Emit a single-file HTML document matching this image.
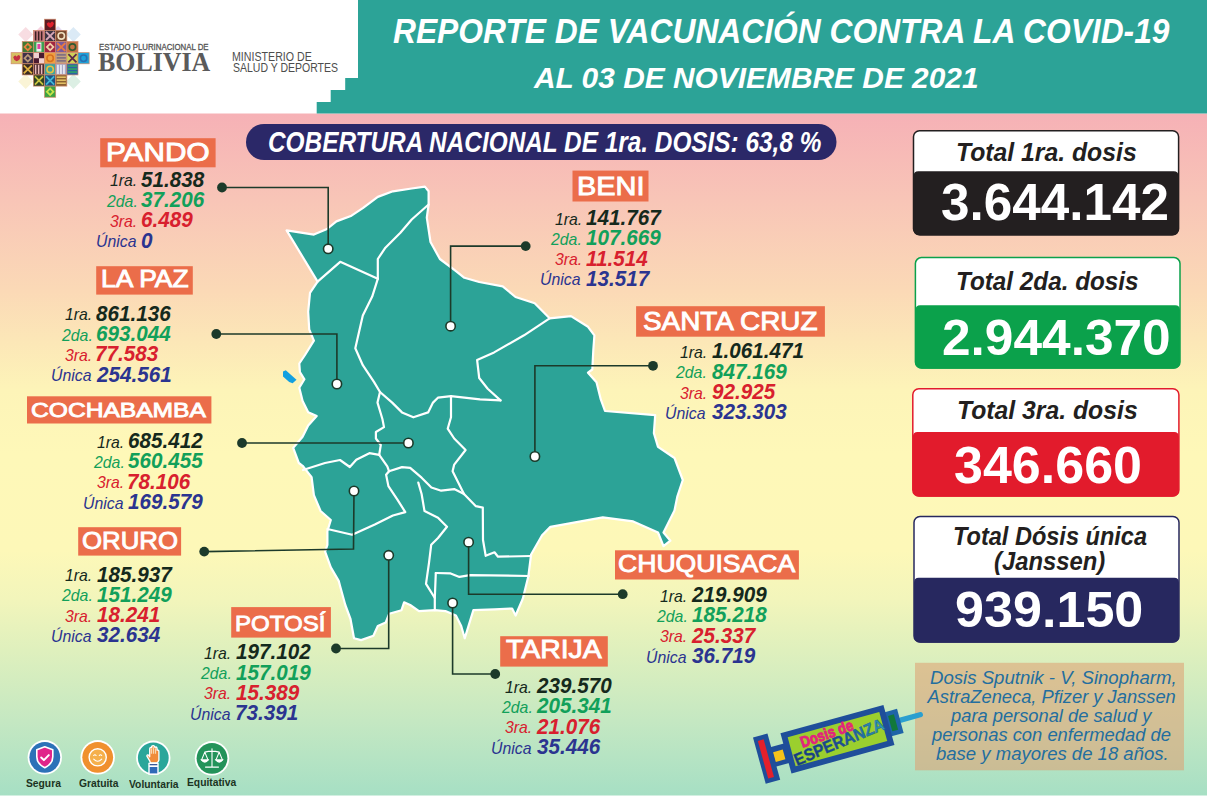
<!DOCTYPE html><html><head><meta charset="utf-8"><style>
html,body{margin:0;padding:0;width:1207px;height:797px;overflow:hidden;background:#fff}
.bgsvg{position:absolute;left:0;top:0}
.t{position:absolute;white-space:nowrap;transform-origin:0 0}
</style></head><body>
<svg class="bgsvg" width="1207" height="797" viewBox="0 0 1207 797"><defs><linearGradient id="bg" x1="0" y1="113" x2="0" y2="796" gradientUnits="userSpaceOnUse"><stop offset="0" stop-color="#f6b1b6"/><stop offset="0.127" stop-color="#f8c5b7"/><stop offset="0.259" stop-color="#fbd9b6"/><stop offset="0.406" stop-color="#fdf4b8"/><stop offset="0.5" stop-color="#fef8b8"/><stop offset="0.64" stop-color="#fdf8b8"/><stop offset="0.713" stop-color="#f2f5bb"/><stop offset="0.786" stop-color="#dff0bd"/><stop offset="0.889" stop-color="#c5e8c2"/><stop offset="1" stop-color="#a6dfc4"/></linearGradient></defs><rect x="0" y="0" width="1207" height="797" fill="#fff"/><rect x="0" y="113.5" width="1207" height="682" fill="url(#bg)"/><polygon points="358,0 1207,0 1207,113.5 316.7,113.5 316.7,102 330.7,102 330.7,90 345.2,90 345.2,78 358,78" fill="#2ca397"/><polygon points="286.6,230.4 313.9,234.6 327.0,229.0 336.4,221.4 351.5,215.7 362.8,208.2 377.8,196.9 392.9,191.3 411.7,188.5 424.9,186.6 428.6,191.3 428.6,204.5 426.8,217.6 430.5,242.0 439.9,259.0 455.0,270.3 464.4,277.8 479.2,282.0 502.7,286.3 515.5,297.0 534.7,303.3 549.6,318.3 571.0,316.1 588.0,326.8 594.4,335.3 593.3,350.3 592.3,369.5 588.0,372.7 596.5,382.3 600.8,399.4 605.0,411.0 655.2,415.2 653.9,433.1 658.0,446.9 674.5,458.0 682.8,480.0 677.3,496.6 674.5,510.4 663.5,532.5 670.4,540.7 663.5,546.2 658.0,532.5 633.2,521.4 602.8,517.3 550.4,526.9 542.1,535.2 531.1,554.5 528.3,576.6 522.8,598.7 515.6,615.5 512.1,608.5 494.5,609.4 473.4,610.2 464.7,638.3 461.2,626.0 455.9,615.5 445.4,611.1 434.8,610.2 419.0,611.1 410.2,605.0 404.1,602.3 401.5,610.2 389.2,613.7 385.7,622.5 377.8,626.0 373.4,635.7 361.1,640.1 354.0,638.3 350.5,619.0 345.3,605.0 340.0,585.7 338.7,580.9 330.8,567.4 325.1,551.6 327.4,544.8 327.4,531.3 330.8,520.0 320.6,511.0 313.9,495.1 311.6,477.1 302.6,465.8 298.8,463.0 293.2,447.9 302.6,436.7 308.2,425.4 316.7,416.0 308.2,412.2 302.6,400.9 299.3,387.7 304.4,379.3 299.9,372.0 299.3,363.5 305.0,355.0 313.9,340.7 309.2,329.4 308.2,311.7 310.0,292.9 317.6,281.6" fill="#2ca397" stroke="#fff" stroke-width="2.2" stroke-linejoin="round"/><polyline points="317.6,281.6 340.2,261.8 377.8,278.8" fill="none" stroke="#fff" stroke-width="2.2" stroke-linejoin="round" stroke-linecap="round"/><polyline points="428.6,204.5 411.7,219.5 400.4,232.7 385.4,247.7 377.8,259.0 377.8,278.8" fill="none" stroke="#fff" stroke-width="2.2" stroke-linejoin="round" stroke-linecap="round"/><polyline points="377.8,278.8 372.2,296.6 362.8,315.5 355.3,348.2 362.8,365.2 374.1,382.1 380.0,392.0" fill="none" stroke="#fff" stroke-width="2.2" stroke-linejoin="round" stroke-linecap="round"/><polyline points="380.0,392.0 392.2,402.6 402.0,412.4 413.4,417.3 428.1,412.4 433.0,402.6 437.9,397.7 451.0,396.1 480.0,399.4 500.5,400.4" fill="none" stroke="#fff" stroke-width="2.2" stroke-linejoin="round" stroke-linecap="round"/><polyline points="549.6,318.3 524.0,335.3 494.1,352.4 477.1,359.9 479.2,378.0 487.7,388.7 500.5,400.4" fill="none" stroke="#fff" stroke-width="2.2" stroke-linejoin="round" stroke-linecap="round"/><polyline points="451.0,396.1 451.0,417.3 447.7,428.7 454.2,438.5 465.6,450.0 454.2,464.6 452.6,471.2 459.1,484.2 464.0,494.0" fill="none" stroke="#fff" stroke-width="2.2" stroke-linejoin="round" stroke-linecap="round"/><polyline points="380.0,392.0 377.5,402.6 382.4,419.0 384.0,427.1 375.9,432.0 375.9,438.5 380.8,445.0 379.2,454.8" fill="none" stroke="#fff" stroke-width="2.2" stroke-linejoin="round" stroke-linecap="round"/><polyline points="303.0,470.0 325.0,463.0 340.0,460.0 349.8,467.0 356.3,459.7 369.4,453.2 379.2,454.8" fill="none" stroke="#fff" stroke-width="2.2" stroke-linejoin="round" stroke-linecap="round"/><polyline points="379.2,454.8 387.3,466.3 389.0,471.2" fill="none" stroke="#fff" stroke-width="2.2" stroke-linejoin="round" stroke-linecap="round"/><polyline points="327.4,529.0 352.2,534.7 374.8,524.5 392.9,515.5 405.3,512.1 397.4,499.7 388.4,486.1 386.1,474.8 389.0,471.2" fill="none" stroke="#fff" stroke-width="2.2" stroke-linejoin="round" stroke-linecap="round"/><polyline points="389.0,471.2 402.0,467.1 410.2,467.9 421.6,477.7 431.4,487.5 441.2,490.7 454.2,489.1 464.0,494.0" fill="none" stroke="#fff" stroke-width="2.2" stroke-linejoin="round" stroke-linecap="round"/><polyline points="418.3,482.6 421.6,494.0 424.5,511.0 438.0,517.7 447.0,526.7 438.0,538.0 431.2,544.8 429.0,562.9 426.0,583.9 434.8,598.0 434.8,610.2" fill="none" stroke="#fff" stroke-width="2.2" stroke-linejoin="round" stroke-linecap="round"/><polyline points="464.0,494.0 475.9,506.2 482.8,507.6 483.0,540.0 485.7,555.8 494.5,552.3 498.0,556.7 531.1,556.0" fill="none" stroke="#fff" stroke-width="2.2" stroke-linejoin="round" stroke-linecap="round"/><polyline points="435.8,573.0 450.6,573.4 459.4,576.9 470.0,575.1 529.0,576.0" fill="none" stroke="#fff" stroke-width="2.2" stroke-linejoin="round" stroke-linecap="round"/><polyline points="435.8,573.0 434.8,598.0" fill="none" stroke="#fff" stroke-width="2.2" stroke-linejoin="round" stroke-linecap="round"/><polygon points="283.0,371.4 285.8,370.2 296.5,379.8 292.6,383.2 289.2,382.1 283.0,376.4" fill="#12a0e0"/><polyline points="222.0,187.5 328.2,187.5 328.2,248.8" fill="none" stroke="#1c3a2a" stroke-width="1.6"/><circle cx="222" cy="187.5" r="4.9" fill="#1c3a2a"/><circle cx="328.2" cy="248.8" r="4.7" fill="#fff" stroke="#1c3a2a" stroke-width="1.6"/><polyline points="525.7,246.1 450.6,246.1 450.6,326.2" fill="none" stroke="#1c3a2a" stroke-width="1.6"/><circle cx="525.7" cy="246.1" r="4.9" fill="#1c3a2a"/><circle cx="450.6" cy="326.2" r="4.7" fill="#fff" stroke="#1c3a2a" stroke-width="1.6"/><polyline points="216.3,334.0 336.9,334.0 336.9,384.0" fill="none" stroke="#1c3a2a" stroke-width="1.6"/><circle cx="216.3" cy="334" r="4.9" fill="#1c3a2a"/><circle cx="336.9" cy="384" r="4.7" fill="#fff" stroke="#1c3a2a" stroke-width="1.6"/><polyline points="242.0,443.0 408.4,443.0" fill="none" stroke="#1c3a2a" stroke-width="1.6"/><circle cx="242" cy="443" r="4.9" fill="#1c3a2a"/><circle cx="408.4" cy="443" r="4.7" fill="#fff" stroke="#1c3a2a" stroke-width="1.6"/><polyline points="653.0,365.8 534.9,365.8 534.9,456.5" fill="none" stroke="#1c3a2a" stroke-width="1.6"/><circle cx="653" cy="365.8" r="4.9" fill="#1c3a2a"/><circle cx="534.9" cy="456.5" r="4.7" fill="#fff" stroke="#1c3a2a" stroke-width="1.6"/><polyline points="204.2,551.6 353.5,549.0 354.0,491.0" fill="none" stroke="#1c3a2a" stroke-width="1.6"/><circle cx="204.2" cy="551.6" r="4.9" fill="#1c3a2a"/><circle cx="354" cy="491" r="4.7" fill="#fff" stroke="#1c3a2a" stroke-width="1.6"/><polyline points="336.0,648.5 388.7,648.5 388.7,555.3" fill="none" stroke="#1c3a2a" stroke-width="1.6"/><circle cx="336" cy="648.5" r="4.9" fill="#1c3a2a"/><circle cx="388.7" cy="555.3" r="4.7" fill="#fff" stroke="#1c3a2a" stroke-width="1.6"/><polyline points="622.7,594.2 468.6,594.2 468.6,542.2" fill="none" stroke="#1c3a2a" stroke-width="1.6"/><circle cx="622.7" cy="594.2" r="4.9" fill="#1c3a2a"/><circle cx="468.6" cy="542.2" r="4.7" fill="#fff" stroke="#1c3a2a" stroke-width="1.6"/><polyline points="495.2,674.0 452.6,674.0 452.6,603.0" fill="none" stroke="#1c3a2a" stroke-width="1.6"/><circle cx="495.2" cy="674" r="4.9" fill="#1c3a2a"/><circle cx="452.6" cy="603" r="4.7" fill="#fff" stroke="#1c3a2a" stroke-width="1.6"/><rect x="246" y="124" width="590.5" height="36" rx="18" fill="#2b2868"/><rect x="913.5" y="130.8" width="265.1" height="104.0" rx="6" fill="#fff" stroke="#231f20" stroke-width="1.5"/><path d="M914.3,176 Q914.3,172 918.3,172 H1173.8 Q1177.8,172 1177.8,176 V228.8 Q1177.8,234.8 1171.8,234.8 H920.3 Q914.3,234.8 914.3,228.8 Z" fill="#231f20" stroke="#231f20" stroke-width="1.5"/><rect x="915.4" y="257.6" width="264.6" height="110.3" rx="6" fill="#fff" stroke="#0ba14b" stroke-width="1.5"/><path d="M916.1999999999999,310 Q916.1999999999999,306 920.1999999999999,306 H1175.2 Q1179.2,306 1179.2,310 V361.9 Q1179.2,367.9 1173.2,367.9 H922.1999999999999 Q916.1999999999999,367.9 916.1999999999999,361.9 Z" fill="#0ba14b" stroke="#0ba14b" stroke-width="1.5"/><rect x="912.8" y="388.8" width="266.1" height="107.2" rx="6" fill="#fff" stroke="#e21b2c" stroke-width="1.5"/><path d="M913.5999999999999,436.7 Q913.5999999999999,432.7 917.5999999999999,432.7 H1174.1000000000001 Q1178.1000000000001,432.7 1178.1000000000001,436.7 V490 Q1178.1000000000001,496 1172.1000000000001,496 H919.5999999999999 Q913.5999999999999,496 913.5999999999999,490 Z" fill="#e21b2c" stroke="#e21b2c" stroke-width="1.5"/><rect x="914" y="516.4" width="265.0" height="125.5" rx="6" fill="#fff" stroke="#27285f" stroke-width="1.5"/><path d="M914.8,582.6 Q914.8,578.6 918.8,578.6 H1174.2 Q1178.2,578.6 1178.2,582.6 V635.9 Q1178.2,641.9 1172.2,641.9 H920.8 Q914.8,641.9 914.8,635.9 Z" fill="#27285f" stroke="#27285f" stroke-width="1.5"/><rect x="100.2" y="138.2" width="115.4" height="29.1" fill="#eb6d4a"/><rect x="572.5" y="170.6" width="76.0" height="30.9" fill="#eb6d4a"/><rect x="96.2" y="266.2" width="96.6" height="28.4" fill="#eb6d4a"/><rect x="636.1" y="306.2" width="188.8" height="30.5" fill="#eb6d4a"/><rect x="27" y="396.3" width="184.4" height="27.2" fill="#eb6d4a"/><rect x="78.2" y="527.2" width="102.9" height="28.4" fill="#eb6d4a"/><rect x="231.2" y="607.1" width="99.7" height="30.5" fill="#eb6d4a"/><rect x="615" y="550.3" width="183.9" height="29.2" fill="#eb6d4a"/><rect x="500.2" y="636.2" width="107.6" height="30.4" fill="#eb6d4a"/><rect x="915" y="662.8" width="269" height="107.5" fill="#dda073" fill-opacity="0.57"/><rect x="20.45" y="29.25" width="10.5" height="10.5" fill="#f8dde2" transform="rotate(45 25.7 34.5)"/><rect x="68.15" y="29.25" width="10.5" height="10.5" fill="#dbeaf6" transform="rotate(45 73.4 34.5)"/><rect x="20.45" y="76.25" width="10.5" height="10.5" fill="#faf4d6" transform="rotate(45 25.7 81.5)"/><rect x="68.15" y="76.25" width="10.5" height="10.5" fill="#dcefe4" transform="rotate(45 73.4 81.5)"/><rect x="37.5" y="27.5" width="7" height="7" fill="#f6cfdd" transform="rotate(45 41 31)"/><rect x="54.5" y="27.5" width="7" height="7" fill="#e2d8ef" transform="rotate(45 58 31)"/><rect x="44.55" y="19.20" width="11.15" height="11.15" fill="#5a1a22"/><path d="M46.63,23.77 q2,-3 3.5,-0.5 q2,-3.5 3.8,0 q-0.5,3.5 -3.8,4.5 q-3,-1 -3.5,-4 z" fill="#e0202e"/><rect x="44.55" y="19.20" width="11.15" height="11.15" fill="none" stroke="#d08a6c" stroke-width="0.7"/><rect x="33.40" y="30.35" width="11.15" height="11.15" fill="#c97c82"/><rect x="34.90" y="31.35" width="1.5" height="9.15" fill="#3a2020"/><rect x="37.90" y="31.35" width="1.5" height="9.15" fill="#3a2020"/><rect x="40.90" y="31.35" width="1.5" height="9.15" fill="#3a2020"/><rect x="33.40" y="30.35" width="11.15" height="11.15" fill="none" stroke="#d08a6c" stroke-width="0.7"/><rect x="44.55" y="30.35" width="11.15" height="11.15" fill="#3c3242"/><path d="M46.05,31.85 L54.20,40.00 M54.20,31.85 L46.05,40.00" stroke="#d8a8b8" stroke-width="1.8"/><rect x="44.55" y="30.35" width="11.15" height="11.15" fill="none" stroke="#d08a6c" stroke-width="0.7"/><rect x="55.70" y="30.35" width="11.15" height="11.15" fill="#7a4a30"/><circle cx="61.28" cy="35.93" r="3.2" fill="none" stroke="#f0dfc0" stroke-width="1.6"/><rect x="55.70" y="30.35" width="11.15" height="11.15" fill="none" stroke="#d08a6c" stroke-width="0.7"/><rect x="22.25" y="41.50" width="11.15" height="11.15" fill="#3f7a33"/><rect x="24.62" y="43.88" width="6.4" height="6.4" fill="#e88040" transform="rotate(45 27.82 47.08)"/><rect x="26.43" y="45.68" width="2.8" height="2.8" fill="#3f7a33" transform="rotate(45 27.82 47.08)"/><rect x="22.25" y="41.50" width="11.15" height="11.15" fill="none" stroke="#d08a6c" stroke-width="0.7"/><rect x="33.40" y="41.50" width="11.15" height="11.15" fill="#3fa052"/><rect x="36.40" y="42.5" width="5" height="9.15" fill="#e8f4e8"/><rect x="37.40" y="44.00" width="3" height="5" fill="#e040a0"/><rect x="33.40" y="41.50" width="11.15" height="11.15" fill="none" stroke="#d08a6c" stroke-width="0.7"/><rect x="44.55" y="41.50" width="11.15" height="11.15" fill="#a22642"/><rect x="46.93" y="43.88" width="6.4" height="6.4" fill="#f0d0a8" transform="rotate(45 50.13 47.08)"/><rect x="48.73" y="45.68" width="2.8" height="2.8" fill="#a22642" transform="rotate(45 50.13 47.08)"/><rect x="44.55" y="41.50" width="11.15" height="11.15" fill="none" stroke="#d08a6c" stroke-width="0.7"/><rect x="55.70" y="41.50" width="11.15" height="11.15" fill="#7a5a9c"/><path d="M57.20,43.00 L65.35,51.15 M65.35,43.00 L57.20,51.15" stroke="#e87a40" stroke-width="1.8"/><rect x="55.70" y="41.50" width="11.15" height="11.15" fill="none" stroke="#d08a6c" stroke-width="0.7"/><rect x="66.85" y="41.50" width="11.15" height="11.15" fill="#c47242"/><circle cx="72.42" cy="47.08" r="3.2" fill="none" stroke="#2f5a30" stroke-width="1.6"/><rect x="66.85" y="41.50" width="11.15" height="11.15" fill="none" stroke="#d08a6c" stroke-width="0.7"/><rect x="11.10" y="52.65" width="11.15" height="11.15" fill="#d6c062"/><path d="M13.18,57.23 q2,-3 3.5,-0.5 q2,-3.5 3.8,0 q-0.5,3.5 -3.8,4.5 q-3,-1 -3.5,-4 z" fill="#c43040"/><rect x="11.10" y="52.65" width="11.15" height="11.15" fill="none" stroke="#d08a6c" stroke-width="0.7"/><rect x="22.25" y="52.65" width="11.15" height="11.15" fill="#3e3048"/><rect x="24.62" y="55.03" width="6.4" height="6.4" fill="#b89878" transform="rotate(45 27.82 58.23)"/><rect x="26.43" y="56.83" width="2.8" height="2.8" fill="#3e3048" transform="rotate(45 27.82 58.23)"/><rect x="22.25" y="52.65" width="11.15" height="11.15" fill="none" stroke="#d08a6c" stroke-width="0.7"/><rect x="33.40" y="52.65" width="11.15" height="11.15" fill="#4a1a30"/><rect x="33.40" y="52.65" width="5.58" height="5.58" fill="#f0d0d0"/><rect x="38.98" y="58.23" width="5.58" height="5.58" fill="#f0d0d0"/><rect x="33.40" y="52.65" width="11.15" height="11.15" fill="none" stroke="#d08a6c" stroke-width="0.7"/><rect x="44.55" y="52.65" width="11.15" height="11.15" fill="#f0a040"/><circle cx="50.13" cy="58.23" r="3.2" fill="none" stroke="#d87020" stroke-width="1.6"/><rect x="44.55" y="52.65" width="11.15" height="11.15" fill="none" stroke="#d08a6c" stroke-width="0.7"/><rect x="55.70" y="52.65" width="11.15" height="11.15" fill="#c0a080"/><rect x="56.7" y="54.15" width="9.15" height="1.5" fill="#7a6a80"/><rect x="56.7" y="57.15" width="9.15" height="1.5" fill="#7a6a80"/><rect x="56.7" y="60.15" width="9.15" height="1.5" fill="#7a6a80"/><rect x="55.70" y="52.65" width="11.15" height="11.15" fill="none" stroke="#d08a6c" stroke-width="0.7"/><rect x="66.85" y="52.65" width="11.15" height="11.15" fill="#cfd258"/><path d="M68.35,54.15 L76.50,62.30 M76.50,54.15 L68.35,62.30" stroke="#5a2a4a" stroke-width="1.8"/><rect x="66.85" y="52.65" width="11.15" height="11.15" fill="none" stroke="#d08a6c" stroke-width="0.7"/><rect x="78.00" y="52.65" width="11.15" height="11.15" fill="#1ea2da"/><circle cx="83.58" cy="58.23" r="3.2" fill="none" stroke="#2a70b0" stroke-width="1.6"/><rect x="78.00" y="52.65" width="11.15" height="11.15" fill="none" stroke="#d08a6c" stroke-width="0.7"/><rect x="22.25" y="63.80" width="11.15" height="11.15" fill="#3a2a20"/><path d="M23.75,65.30 L31.90,73.45 M31.90,65.30 L23.75,73.45" stroke="#e0b040" stroke-width="1.8"/><rect x="22.25" y="63.80" width="11.15" height="11.15" fill="none" stroke="#d08a6c" stroke-width="0.7"/><rect x="33.40" y="63.80" width="11.15" height="11.15" fill="#4a2a30"/><rect x="34.90" y="64.8" width="1.5" height="9.15" fill="#e8b8b8"/><rect x="37.90" y="64.8" width="1.5" height="9.15" fill="#e8b8b8"/><rect x="40.90" y="64.8" width="1.5" height="9.15" fill="#e8b8b8"/><rect x="33.40" y="63.80" width="11.15" height="11.15" fill="none" stroke="#d08a6c" stroke-width="0.7"/><rect x="44.55" y="63.80" width="11.15" height="11.15" fill="#3ea3a0"/><circle cx="50.13" cy="69.38" r="3.2" fill="none" stroke="#e8c040" stroke-width="1.6"/><rect x="44.55" y="63.80" width="11.15" height="11.15" fill="none" stroke="#d08a6c" stroke-width="0.7"/><rect x="55.70" y="63.80" width="11.15" height="11.15" fill="#a8a8c8"/><rect x="57.20" y="64.8" width="1.5" height="9.15" fill="#f4f4f8"/><rect x="60.20" y="64.8" width="1.5" height="9.15" fill="#f4f4f8"/><rect x="63.20" y="64.8" width="1.5" height="9.15" fill="#f4f4f8"/><rect x="55.70" y="63.80" width="11.15" height="11.15" fill="none" stroke="#d08a6c" stroke-width="0.7"/><rect x="66.85" y="63.80" width="11.15" height="11.15" fill="#2a62a2"/><rect x="67.85" y="65.30" width="9.15" height="1.5" fill="#30a866"/><rect x="67.85" y="68.30" width="9.15" height="1.5" fill="#30a866"/><rect x="67.85" y="71.30" width="9.15" height="1.5" fill="#30a866"/><rect x="66.85" y="63.80" width="11.15" height="11.15" fill="none" stroke="#d08a6c" stroke-width="0.7"/><rect x="33.40" y="74.95" width="11.15" height="11.15" fill="#304222"/><path d="M34.90,76.45 L43.05,84.60 M43.05,76.45 L34.90,84.60" stroke="#c8c440" stroke-width="1.8"/><rect x="33.40" y="74.95" width="11.15" height="11.15" fill="none" stroke="#d08a6c" stroke-width="0.7"/><rect x="44.55" y="74.95" width="11.15" height="11.15" fill="#1a5283"/><path d="M46.05,76.45 L54.20,84.60 M54.20,76.45 L46.05,84.60" stroke="#40b6d6" stroke-width="1.8"/><rect x="44.55" y="74.95" width="11.15" height="11.15" fill="none" stroke="#d08a6c" stroke-width="0.7"/><rect x="55.70" y="74.95" width="11.15" height="11.15" fill="#8a6030"/><rect x="56.7" y="76.45" width="9.15" height="1.5" fill="#e6c466"/><rect x="56.7" y="79.45" width="9.15" height="1.5" fill="#e6c466"/><rect x="56.7" y="82.45" width="9.15" height="1.5" fill="#e6c466"/><rect x="55.70" y="74.95" width="11.15" height="11.15" fill="none" stroke="#d08a6c" stroke-width="0.7"/><rect x="44.55" y="86.10" width="11.15" height="11.15" fill="#3fa242"/><rect x="46.93" y="88.48" width="6.4" height="6.4" fill="#c8e44a" transform="rotate(45 50.13 91.68)"/><rect x="48.73" y="90.28" width="2.8" height="2.8" fill="#3fa242" transform="rotate(45 50.13 91.68)"/><rect x="44.55" y="86.10" width="11.15" height="11.15" fill="none" stroke="#d08a6c" stroke-width="0.7"/><circle cx="44.8" cy="757.3" r="17.2" fill="#fff"/><circle cx="44.8" cy="757.3" r="15.4" fill="#2c72b8"/><g transform="translate(44.8,757.3)"><path d="M0,-10.5 L8,-7.5 V-0.5 Q8,6.5 0,10.5 Q-8,6.5 -8,-0.5 V-7.5 Z" fill="#e0248a" stroke="#fff" stroke-width="1.6" stroke-linejoin="round"/><path d="M-3.6,0.2 L-0.9,2.8 L4,-2.2" fill="none" stroke="#fff" stroke-width="2" stroke-linecap="round" stroke-linejoin="round"/></g><circle cx="97.7" cy="757.3" r="17.2" fill="#fff"/><circle cx="97.7" cy="757.3" r="15.4" fill="#f0902e"/><g transform="translate(97.7,757.3)"><circle r="8.6" fill="#f5b04c" stroke="#fff" stroke-width="1.4"/><path d="M-4,-1.8 q1.2,-1.6 2.4,0 M1.6,-1.8 q1.2,-1.6 2.4,0 M-4,1.8 q4,4.2 8,0" fill="none" stroke="#fff" stroke-width="1.1" stroke-linecap="round"/></g><circle cx="153.3" cy="757.8" r="17.2" fill="#fff"/><circle cx="153.3" cy="757.8" r="15.4" fill="#2aa69a"/><g transform="translate(153.3,757.8)"><path d="M-3.6,3 L-6.4,-1.6 Q-6.6,-3.4 -4.8,-2.6 L-3.6,-1 L-3.6,-9 Q-3.2,-11 -1.6,-10 L-1.6,-11.5 Q0,-13 1.4,-11.2 L1.6,-10.4 Q3.6,-11.6 3.8,-9 L3.8,-7.6 Q5.6,-8.2 5.6,-6 L5.6,2.2 Q5,4.6 3.6,5 L-3,5 Z" fill="#f08c3a" stroke="#fff" stroke-width="1.3" stroke-linejoin="round"/><rect x="-5" y="5" width="10.4" height="12" fill="#fff"/><rect x="-3.6" y="6.2" width="7.6" height="1.3" fill="#3a5a98"/><rect x="-3.6" y="9.2" width="7.6" height="6.4" fill="#2f6ab8"/><path d="M-1.8,-9 V-4 M0.2,-10.5 V-4 M2.2,-9.5 V-4" stroke="#f8d8b0" stroke-width="1.2"/></g><circle cx="212" cy="758.3" r="17.2" fill="#fff"/><circle cx="212" cy="758.3" r="15.4" fill="#23935a"/><g transform="translate(212,758.3)" fill="none" stroke="#fff" stroke-width="1.1" stroke-linecap="round"><path d="M0,-9.5 V8.5 M-6.5,8.8 H6.5 M-7.2,-6.2 Q0,-8.2 7.2,-6.2 M-7.2,-6.2 L-10.4,1.6 M-7.2,-6.2 L-4,1.6 M7.2,-6.2 L4,1.6 M7.2,-6.2 L10.4,1.6"/><path d="M-10.6,1.6 Q-7.2,6 -3.8,1.6 Z M3.8,1.6 Q7.2,6 10.6,1.6 Z" fill="#fff"/></g><g transform="translate(837.45,739.2) rotate(-15.4)"><rect x="84" y="-4" width="0" height="0"/><rect x="64" y="-4.2" width="25" height="5.2" rx="2" fill="#2a9fd0"/><rect x="52" y="-13.5" width="13.5" height="25" fill="#1f64a8"/><rect x="55" y="-9" width="6" height="16" fill="#12783a"/><rect x="-68" y="-10" width="17" height="20" fill="#1f4e9a"/><rect x="-65.5" y="-4.5" width="10" height="10" fill="#f6c21a"/><rect x="-81" y="-24" width="15" height="48" fill="#1f4e9a"/><rect x="-77.2" y="-19.5" width="6" height="39" fill="#e4202c"/><rect x="-53.4" y="-20.8" width="106.8" height="41.6" fill="#1f4e9a"/><rect x="-47.5" y="-15" width="95" height="30" fill="#9bcf2e"/><defs><linearGradient id="esp" x1="-47" y1="0" x2="50" y2="0" gradientUnits="userSpaceOnUse"><stop offset="0" stop-color="#173a7a"/><stop offset="0.55" stop-color="#1d4f92"/><stop offset="1" stop-color="#2aa0b8"/></linearGradient></defs><text x="-36" y="-1" transform="rotate(-4 -36 -1)" font-family="Liberation Sans" font-weight="bold" font-size="15.5" fill="#e2257c" stroke="#e2257c" stroke-width="0.9" textLength="55" lengthAdjust="spacingAndGlyphs">Dosis de</text><text x="-46" y="15" transform="rotate(-7.3 -46 15)" font-family="Liberation Sans" font-weight="bold" font-size="17" fill="url(#esp)" stroke="#1d4f92" stroke-width="0.4" textLength="96" lengthAdjust="spacingAndGlyphs">ESPERANZA</text></g></svg>
<div class="t" style="left:392.66px;top:14.11px;font:italic bold 34.59px/34.59px 'Liberation Sans',sans-serif;color:#fff;transform:scaleX(0.9186);">REPORTE DE VACUNACIÓN CONTRA LA COVID-19</div>
<div class="t" style="left:534.40px;top:63.03px;font:italic bold 30.09px/30.09px 'Liberation Sans',sans-serif;color:#fff;transform:scaleX(0.9937);">AL 03 DE NOVIEMBRE DE 2021</div>
<div class="t" style="left:267.78px;top:127.44px;font:italic bold 29.36px/29.36px 'Liberation Sans',sans-serif;color:#fff;transform:scaleX(0.8300);">COBERTURA NACIONAL DE 1ra. DOSIS: 63,8 %</div>
<div class="t" style="left:98.77px;top:43.02px;font:normal normal 8.72px/8.72px 'Liberation Sans',sans-serif;color:#555;transform:scaleX(0.8972);-webkit-text-stroke:0.3px #555;">ESTADO PLURINACIONAL DE</div>
<div class="t" style="left:98.41px;top:47.90px;font:normal bold 28.34px/28.34px 'Liberation Serif',serif;color:#5b5b5b;transform:scaleX(0.9136);">BOLIVIA</div>
<div class="t" style="left:232.15px;top:49.86px;font:normal normal 13.52px/13.52px 'Liberation Sans',sans-serif;color:#4d4d4d;transform:scaleX(0.7869);">MINISTERIO DE</div>
<div class="t" style="left:232.53px;top:60.76px;font:normal normal 13.52px/13.52px 'Liberation Sans',sans-serif;color:#4d4d4d;transform:scaleX(0.7764);">SALUD Y DEPORTES</div>
<div class="t" style="left:956.07px;top:139.51px;font:italic bold 25.15px/25.15px 'Liberation Sans',sans-serif;color:#231f20;transform:scaleX(0.9845);">Total 1ra. dosis</div>
<div class="t" style="left:940.72px;top:177.34px;font:normal bold 51.58px/51.58px 'Liberation Sans',sans-serif;color:#fff;transform:scaleX(0.9931);">3.644.142</div>
<div class="t" style="left:956.10px;top:268.71px;font:italic bold 25.15px/25.15px 'Liberation Sans',sans-serif;color:#231f20;transform:scaleX(0.9654);">Total 2da. dosis</div>
<div class="t" style="left:942.00px;top:313.05px;font:normal bold 50.14px/50.14px 'Liberation Sans',sans-serif;color:#fff;transform:scaleX(1.0256);">2.944.370</div>
<div class="t" style="left:956.77px;top:398.11px;font:italic bold 25.15px/25.15px 'Liberation Sans',sans-serif;color:#231f20;transform:scaleX(0.9845);">Total 3ra. dosis</div>
<div class="t" style="left:953.70px;top:440.04px;font:normal bold 51.58px/51.58px 'Liberation Sans',sans-serif;color:#fff;transform:scaleX(1.0082);">346.660</div>
<div class="t" style="left:952.65px;top:523.91px;font:italic bold 25.15px/25.15px 'Liberation Sans',sans-serif;color:#231f20;transform:scaleX(0.9361);">Total Dósis única</div>
<div class="t" style="left:993.82px;top:548.51px;font:italic bold 25.15px/25.15px 'Liberation Sans',sans-serif;color:#231f20;transform:scaleX(0.9474);">(Janssen)</div>
<div class="t" style="left:954.98px;top:585.35px;font:normal bold 50.14px/50.14px 'Liberation Sans',sans-serif;color:#fff;transform:scaleX(1.0394);">939.150</div>
<div class="t" style="left:105.97px;top:139.55px;font:normal normal 25.87px/25.87px 'Liberation Sans',sans-serif;color:#fff;transform:scaleX(1.1498);-webkit-text-stroke:0.9px #fff;">PANDO</div>
<div class="t" style="left:576.94px;top:173.22px;font:normal normal 26.02px/26.02px 'Liberation Sans',sans-serif;color:#fff;transform:scaleX(1.1121);-webkit-text-stroke:0.9px #fff;">BENI</div>
<div class="t" style="left:101.14px;top:267.66px;font:normal normal 23.26px/23.26px 'Liberation Sans',sans-serif;color:#fff;transform:scaleX(1.1350);-webkit-text-stroke:0.9px #fff;">LA PAZ</div>
<div class="t" style="left:642.90px;top:308.82px;font:normal normal 25.44px/25.44px 'Liberation Sans',sans-serif;color:#fff;transform:scaleX(1.0958);-webkit-text-stroke:0.9px #fff;">SANTA CRUZ</div>
<div class="t" style="left:31.12px;top:399.01px;font:normal normal 21.08px/21.08px 'Liberation Sans',sans-serif;color:#fff;transform:scaleX(1.1667);-webkit-text-stroke:0.9px #fff;">COCHABAMBA</div>
<div class="t" style="left:81.99px;top:528.72px;font:normal normal 24.13px/24.13px 'Liberation Sans',sans-serif;color:#fff;transform:scaleX(1.0687);-webkit-text-stroke:0.9px #fff;">ORURO</div>
<div class="t" style="left:235.13px;top:611.83px;font:normal normal 22.82px/22.82px 'Liberation Sans',sans-serif;color:#fff;transform:scaleX(1.0539);-webkit-text-stroke:0.9px #fff;">POTOSÍ</div>
<div class="t" style="left:618.42px;top:551.92px;font:normal normal 24.13px/24.13px 'Liberation Sans',sans-serif;color:#fff;transform:scaleX(1.1021);-webkit-text-stroke:0.9px #fff;">CHUQUISACA</div>
<div class="t" style="left:505.78px;top:637.45px;font:normal normal 25.87px/25.87px 'Liberation Sans',sans-serif;color:#fff;transform:scaleX(1.0972);-webkit-text-stroke:0.9px #fff;">TARIJA</div>
<div class="t" style="left:110.40px;top:172.41px;font:italic normal 17.00px/17.00px 'Liberation Sans',sans-serif;color:#15291c;transform:scaleX(0.9300);">1ra.</div>
<div class="t" style="left:141.29px;top:168.85px;font:italic bold 21.20px/21.20px 'Liberation Sans',sans-serif;color:#15291c;transform:scaleX(0.9750);">51.838</div>
<div class="t" style="left:106.85px;top:192.71px;font:italic normal 17.00px/17.00px 'Liberation Sans',sans-serif;color:#12a05a;transform:scaleX(0.9300);">2da.</div>
<div class="t" style="left:141.29px;top:189.15px;font:italic bold 21.20px/21.20px 'Liberation Sans',sans-serif;color:#12a05a;transform:scaleX(0.9750);">37.206</div>
<div class="t" style="left:110.40px;top:213.01px;font:italic normal 17.00px/17.00px 'Liberation Sans',sans-serif;color:#d8202e;transform:scaleX(0.9300);">3ra.</div>
<div class="t" style="left:140.57px;top:209.45px;font:italic bold 21.20px/21.20px 'Liberation Sans',sans-serif;color:#d8202e;transform:scaleX(0.9750);">6.489</div>
<div class="t" style="left:95.86px;top:233.31px;font:italic normal 17.00px/17.00px 'Liberation Sans',sans-serif;color:#2b3490;transform:scaleX(0.9300);">Única</div>
<div class="t" style="left:140.67px;top:229.75px;font:italic bold 21.20px/21.20px 'Liberation Sans',sans-serif;color:#2b3490;transform:scaleX(0.9750);">0</div>
<div class="t" style="left:554.70px;top:210.51px;font:italic normal 17.00px/17.00px 'Liberation Sans',sans-serif;color:#15291c;transform:scaleX(0.9300);">1ra.</div>
<div class="t" style="left:586.29px;top:206.95px;font:italic bold 21.20px/21.20px 'Liberation Sans',sans-serif;color:#15291c;transform:scaleX(0.9750);">141.767</div>
<div class="t" style="left:551.15px;top:230.81px;font:italic normal 17.00px/17.00px 'Liberation Sans',sans-serif;color:#12a05a;transform:scaleX(0.9300);">2da.</div>
<div class="t" style="left:586.29px;top:227.25px;font:italic bold 21.20px/21.20px 'Liberation Sans',sans-serif;color:#12a05a;transform:scaleX(0.9750);">107.669</div>
<div class="t" style="left:554.70px;top:251.11px;font:italic normal 17.00px/17.00px 'Liberation Sans',sans-serif;color:#d8202e;transform:scaleX(0.9300);">3ra.</div>
<div class="t" style="left:586.29px;top:247.55px;font:italic bold 21.20px/21.20px 'Liberation Sans',sans-serif;color:#d8202e;transform:scaleX(0.9750);">11.514</div>
<div class="t" style="left:540.16px;top:271.41px;font:italic normal 17.00px/17.00px 'Liberation Sans',sans-serif;color:#2b3490;transform:scaleX(0.9300);">Única</div>
<div class="t" style="left:586.29px;top:267.85px;font:italic bold 21.20px/21.20px 'Liberation Sans',sans-serif;color:#2b3490;transform:scaleX(0.9750);">13.517</div>
<div class="t" style="left:65.10px;top:306.21px;font:italic normal 17.00px/17.00px 'Liberation Sans',sans-serif;color:#15291c;transform:scaleX(0.9300);">1ra.</div>
<div class="t" style="left:96.29px;top:302.65px;font:italic bold 21.20px/21.20px 'Liberation Sans',sans-serif;color:#15291c;transform:scaleX(0.9750);">861.136</div>
<div class="t" style="left:61.55px;top:326.51px;font:italic normal 17.00px/17.00px 'Liberation Sans',sans-serif;color:#12a05a;transform:scaleX(0.9300);">2da.</div>
<div class="t" style="left:95.67px;top:322.95px;font:italic bold 21.20px/21.20px 'Liberation Sans',sans-serif;color:#12a05a;transform:scaleX(0.9750);">693.044</div>
<div class="t" style="left:65.10px;top:346.81px;font:italic normal 17.00px/17.00px 'Liberation Sans',sans-serif;color:#d8202e;transform:scaleX(0.9300);">3ra.</div>
<div class="t" style="left:95.15px;top:343.25px;font:italic bold 21.20px/21.20px 'Liberation Sans',sans-serif;color:#d8202e;transform:scaleX(0.9750);">77.583</div>
<div class="t" style="left:50.56px;top:367.11px;font:italic normal 17.00px/17.00px 'Liberation Sans',sans-serif;color:#2b3490;transform:scaleX(0.9300);">Única</div>
<div class="t" style="left:96.91px;top:363.55px;font:italic bold 21.20px/21.20px 'Liberation Sans',sans-serif;color:#2b3490;transform:scaleX(0.9750);">254.561</div>
<div class="t" style="left:679.90px;top:344.01px;font:italic normal 17.00px/17.00px 'Liberation Sans',sans-serif;color:#15291c;transform:scaleX(0.9300);">1ra.</div>
<div class="t" style="left:712.29px;top:340.45px;font:italic bold 21.20px/21.20px 'Liberation Sans',sans-serif;color:#15291c;transform:scaleX(0.9750);">1.061.471</div>
<div class="t" style="left:676.35px;top:364.31px;font:italic normal 17.00px/17.00px 'Liberation Sans',sans-serif;color:#12a05a;transform:scaleX(0.9300);">2da.</div>
<div class="t" style="left:712.29px;top:360.75px;font:italic bold 21.20px/21.20px 'Liberation Sans',sans-serif;color:#12a05a;transform:scaleX(0.9750);">847.169</div>
<div class="t" style="left:679.90px;top:384.61px;font:italic normal 17.00px/17.00px 'Liberation Sans',sans-serif;color:#d8202e;transform:scaleX(0.9300);">3ra.</div>
<div class="t" style="left:712.08px;top:381.05px;font:italic bold 21.20px/21.20px 'Liberation Sans',sans-serif;color:#d8202e;transform:scaleX(0.9750);">92.925</div>
<div class="t" style="left:665.36px;top:404.91px;font:italic normal 17.00px/17.00px 'Liberation Sans',sans-serif;color:#2b3490;transform:scaleX(0.9300);">Única</div>
<div class="t" style="left:712.39px;top:401.35px;font:italic bold 21.20px/21.20px 'Liberation Sans',sans-serif;color:#2b3490;transform:scaleX(0.9750);">323.303</div>
<div class="t" style="left:97.40px;top:433.61px;font:italic normal 17.00px/17.00px 'Liberation Sans',sans-serif;color:#15291c;transform:scaleX(0.9300);">1ra.</div>
<div class="t" style="left:127.77px;top:430.05px;font:italic bold 21.20px/21.20px 'Liberation Sans',sans-serif;color:#15291c;transform:scaleX(0.9750);">685.412</div>
<div class="t" style="left:93.85px;top:453.91px;font:italic normal 17.00px/17.00px 'Liberation Sans',sans-serif;color:#12a05a;transform:scaleX(0.9300);">2da.</div>
<div class="t" style="left:128.49px;top:450.35px;font:italic bold 21.20px/21.20px 'Liberation Sans',sans-serif;color:#12a05a;transform:scaleX(0.9750);">560.455</div>
<div class="t" style="left:97.40px;top:474.21px;font:italic normal 17.00px/17.00px 'Liberation Sans',sans-serif;color:#d8202e;transform:scaleX(0.9300);">3ra.</div>
<div class="t" style="left:127.25px;top:470.65px;font:italic bold 21.20px/21.20px 'Liberation Sans',sans-serif;color:#d8202e;transform:scaleX(0.9750);">78.106</div>
<div class="t" style="left:82.86px;top:494.51px;font:italic normal 17.00px/17.00px 'Liberation Sans',sans-serif;color:#2b3490;transform:scaleX(0.9300);">Única</div>
<div class="t" style="left:128.39px;top:490.95px;font:italic bold 21.20px/21.20px 'Liberation Sans',sans-serif;color:#2b3490;transform:scaleX(0.9750);">169.579</div>
<div class="t" style="left:65.20px;top:567.11px;font:italic normal 17.00px/17.00px 'Liberation Sans',sans-serif;color:#15291c;transform:scaleX(0.9300);">1ra.</div>
<div class="t" style="left:96.69px;top:563.55px;font:italic bold 21.20px/21.20px 'Liberation Sans',sans-serif;color:#15291c;transform:scaleX(0.9750);">185.937</div>
<div class="t" style="left:61.65px;top:587.41px;font:italic normal 17.00px/17.00px 'Liberation Sans',sans-serif;color:#12a05a;transform:scaleX(0.9300);">2da.</div>
<div class="t" style="left:96.69px;top:583.85px;font:italic bold 21.20px/21.20px 'Liberation Sans',sans-serif;color:#12a05a;transform:scaleX(0.9750);">151.249</div>
<div class="t" style="left:65.20px;top:607.71px;font:italic normal 17.00px/17.00px 'Liberation Sans',sans-serif;color:#d8202e;transform:scaleX(0.9300);">3ra.</div>
<div class="t" style="left:96.69px;top:604.15px;font:italic bold 21.20px/21.20px 'Liberation Sans',sans-serif;color:#d8202e;transform:scaleX(0.9750);">18.241</div>
<div class="t" style="left:50.66px;top:628.01px;font:italic normal 17.00px/17.00px 'Liberation Sans',sans-serif;color:#2b3490;transform:scaleX(0.9300);">Única</div>
<div class="t" style="left:96.79px;top:624.45px;font:italic bold 21.20px/21.20px 'Liberation Sans',sans-serif;color:#2b3490;transform:scaleX(0.9750);">32.634</div>
<div class="t" style="left:204.40px;top:644.81px;font:italic normal 17.00px/17.00px 'Liberation Sans',sans-serif;color:#15291c;transform:scaleX(0.9300);">1ra.</div>
<div class="t" style="left:236.29px;top:641.25px;font:italic bold 21.20px/21.20px 'Liberation Sans',sans-serif;color:#15291c;transform:scaleX(0.9750);">197.102</div>
<div class="t" style="left:200.85px;top:665.11px;font:italic normal 17.00px/17.00px 'Liberation Sans',sans-serif;color:#12a05a;transform:scaleX(0.9300);">2da.</div>
<div class="t" style="left:236.29px;top:661.55px;font:italic bold 21.20px/21.20px 'Liberation Sans',sans-serif;color:#12a05a;transform:scaleX(0.9750);">157.019</div>
<div class="t" style="left:204.40px;top:685.41px;font:italic normal 17.00px/17.00px 'Liberation Sans',sans-serif;color:#d8202e;transform:scaleX(0.9300);">3ra.</div>
<div class="t" style="left:236.29px;top:681.85px;font:italic bold 21.20px/21.20px 'Liberation Sans',sans-serif;color:#d8202e;transform:scaleX(0.9750);">15.389</div>
<div class="t" style="left:189.86px;top:705.71px;font:italic normal 17.00px/17.00px 'Liberation Sans',sans-serif;color:#2b3490;transform:scaleX(0.9300);">Única</div>
<div class="t" style="left:235.15px;top:702.15px;font:italic bold 21.20px/21.20px 'Liberation Sans',sans-serif;color:#2b3490;transform:scaleX(0.9750);">73.391</div>
<div class="t" style="left:660.40px;top:587.61px;font:italic normal 17.00px/17.00px 'Liberation Sans',sans-serif;color:#15291c;transform:scaleX(0.9300);">1ra.</div>
<div class="t" style="left:692.31px;top:584.05px;font:italic bold 21.20px/21.20px 'Liberation Sans',sans-serif;color:#15291c;transform:scaleX(0.9750);">219.909</div>
<div class="t" style="left:656.85px;top:607.91px;font:italic normal 17.00px/17.00px 'Liberation Sans',sans-serif;color:#12a05a;transform:scaleX(0.9300);">2da.</div>
<div class="t" style="left:691.69px;top:604.35px;font:italic bold 21.20px/21.20px 'Liberation Sans',sans-serif;color:#12a05a;transform:scaleX(0.9750);">185.218</div>
<div class="t" style="left:660.40px;top:628.21px;font:italic normal 17.00px/17.00px 'Liberation Sans',sans-serif;color:#d8202e;transform:scaleX(0.9300);">3ra.</div>
<div class="t" style="left:692.31px;top:624.65px;font:italic bold 21.20px/21.20px 'Liberation Sans',sans-serif;color:#d8202e;transform:scaleX(0.9750);">25.337</div>
<div class="t" style="left:645.86px;top:648.51px;font:italic normal 17.00px/17.00px 'Liberation Sans',sans-serif;color:#2b3490;transform:scaleX(0.9300);">Única</div>
<div class="t" style="left:691.79px;top:644.95px;font:italic bold 21.20px/21.20px 'Liberation Sans',sans-serif;color:#2b3490;transform:scaleX(0.9750);">36.719</div>
<div class="t" style="left:505.40px;top:678.71px;font:italic normal 17.00px/17.00px 'Liberation Sans',sans-serif;color:#15291c;transform:scaleX(0.9300);">1ra.</div>
<div class="t" style="left:537.31px;top:675.15px;font:italic bold 21.20px/21.20px 'Liberation Sans',sans-serif;color:#15291c;transform:scaleX(0.9750);">239.570</div>
<div class="t" style="left:501.85px;top:699.01px;font:italic normal 17.00px/17.00px 'Liberation Sans',sans-serif;color:#12a05a;transform:scaleX(0.9300);">2da.</div>
<div class="t" style="left:537.31px;top:695.45px;font:italic bold 21.20px/21.20px 'Liberation Sans',sans-serif;color:#12a05a;transform:scaleX(0.9750);">205.341</div>
<div class="t" style="left:505.40px;top:719.31px;font:italic normal 17.00px/17.00px 'Liberation Sans',sans-serif;color:#d8202e;transform:scaleX(0.9300);">3ra.</div>
<div class="t" style="left:537.31px;top:715.75px;font:italic bold 21.20px/21.20px 'Liberation Sans',sans-serif;color:#d8202e;transform:scaleX(0.9750);">21.076</div>
<div class="t" style="left:490.86px;top:739.61px;font:italic normal 17.00px/17.00px 'Liberation Sans',sans-serif;color:#2b3490;transform:scaleX(0.9300);">Única</div>
<div class="t" style="left:536.79px;top:736.05px;font:italic bold 21.20px/21.20px 'Liberation Sans',sans-serif;color:#2b3490;transform:scaleX(0.9750);">35.446</div>
<div class="t" style="left:929.84px;top:668.90px;font:italic normal 18.31px/18.31px 'Liberation Sans',sans-serif;color:#236e9f;transform:scaleX(1.0159);">Dosis Sputnik - V, Sinopharm,</div>
<div class="t" style="left:927.62px;top:688.10px;font:italic normal 18.31px/18.31px 'Liberation Sans',sans-serif;color:#236e9f;">AstraZeneca, Pfizer y Janssen</div>
<div class="t" style="left:951.06px;top:707.10px;font:italic normal 18.31px/18.31px 'Liberation Sans',sans-serif;color:#236e9f;">para personal de salud y</div>
<div class="t" style="left:932.46px;top:726.20px;font:italic normal 18.31px/18.31px 'Liberation Sans',sans-serif;color:#236e9f;transform:scaleX(1.0039);">personas con enfermedad de</div>
<div class="t" style="left:935.72px;top:744.70px;font:italic normal 18.31px/18.31px 'Liberation Sans',sans-serif;color:#236e9f;transform:scaleX(1.0121);">base y mayores de 18 años.</div>
<div class="t" style="left:26.35px;top:777.61px;font:normal bold 10.50px/10.50px 'Liberation Sans',sans-serif;color:#1b3322;transform:scaleX(0.9800);">Segura</div>
<div class="t" style="left:78.71px;top:777.61px;font:normal bold 10.50px/10.50px 'Liberation Sans',sans-serif;color:#1b3322;transform:scaleX(0.9800);">Gratuita</div>
<div class="t" style="left:129.25px;top:778.61px;font:normal bold 10.50px/10.50px 'Liberation Sans',sans-serif;color:#1b3322;transform:scaleX(0.9800);">Voluntaria</div>
<div class="t" style="left:186.72px;top:777.41px;font:normal bold 10.50px/10.50px 'Liberation Sans',sans-serif;color:#1b3322;transform:scaleX(0.9800);">Equitativa</div>
</body></html>
